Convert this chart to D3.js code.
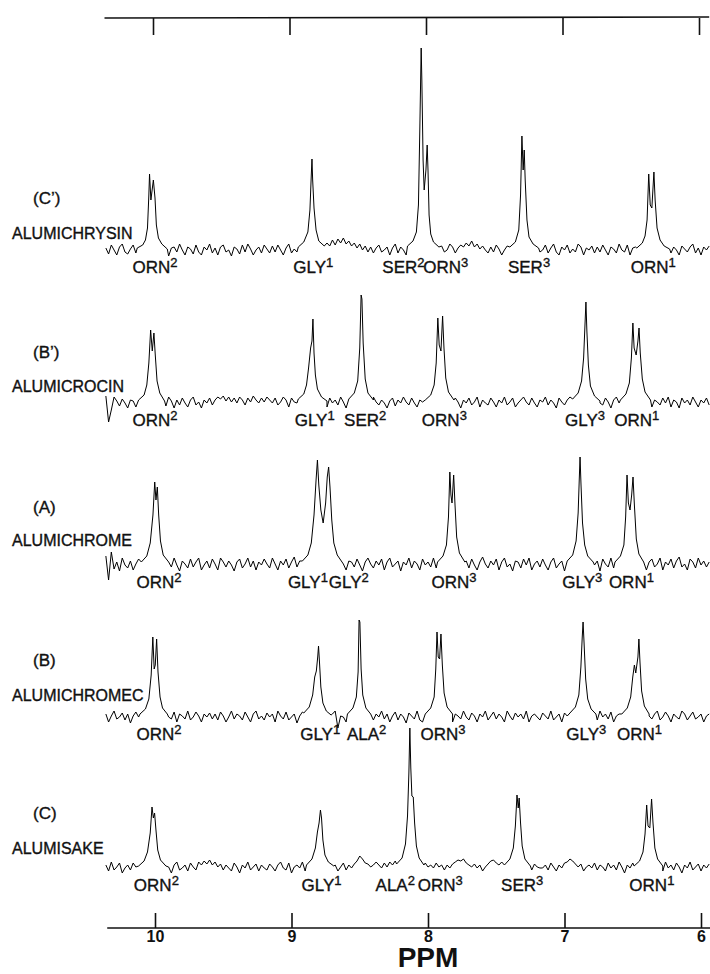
<!DOCTYPE html>
<html>
<head>
<meta charset="utf-8">
<script src="https://cdn.jsdelivr.net/npm/d3@7"></script>
<style>
  body { margin: 0; background: #fff; }
  svg { display: block; font-family: "Liberation Sans", Arial, sans-serif; }
  .trace { fill: none; stroke: #000; stroke-width: 1; stroke-linejoin: round; }
  .axis line, .axis path { stroke: #111; stroke-width: 1.6; }
  .axis text { font-size: 16px; font-weight: bold; fill: #111; font-family: "Liberation Sans", Arial, sans-serif; }
  .lbl { fill: #111; stroke: #111; stroke-width: 0.35; }
</style>
</head>
<body>
<div id="chart"></div>
<script>
// ---- data ----
const ppmTicks = [10, 9, 8, 7, 6];

const sampleNames = ["ALUMICHRYSIN", "ALUMICROCIN", "ALUMICHROME", "ALUMICHROMEC", "ALUMISAKE"];
const sampleTags = ["(C\u2019)", "(B\u2019)", "(A)", "(B)", "(C)"];

// baseline noise, sampled from 10.36 ppm downward every 0.02 ppm
const noiseStart = 10.36;
const noiseStep = 0.02;

const noiseCp = [
  2,-4,5,0,-5,3,6,-2,-4,1,5,-3,0,3,-6,2,4,-2,3,-4,
  0,5,-3,-6,2,3,-2,6,0,-5,3,1,-4,5,-2,-5,3,0,6,-3,
  2,-5,3,5,-2,0,-6,3,1,-4,5,-2,6,1,-5,0,3,-3,5,1,
  -3,4,-2,5,0,-5,2,6,-3,1,-2,5,3,-5,0,3,-4,6,1,4,
  3,7,4,10,5,11,7,12,6,9,4,7,2,6,0,4,-2,3,-3,2,
  5,-2,0,3,-5,2,6,-3,3,0,-5,4,1,-2,6,3,-3,0,5,-2,
  3,-5,2,4,-2,0,6,3,-3,2,5,3,7,4,9,3,6,1,4,0,
  -3,3,-2,5,1,-5,0,4,-3,6,2,-2,5,-5,0,3,1,-4,5,-2,
  0,5,-3,2,6,-2,-5,3,0,5,-3,1,-2,6,3,-5,2,0,4,-3,
  3,-2,5,0,-5,3,1,-3,6,0,-2,5,-5,2,3,-4,0,5,1,-3,
  5,-2,3,-5,0,6,2,-3,3,0,-5,4,1,-2,3,6,-3,2,-5,3,
  0,4];
const noiseBp = [
  7,-19,-7,6,2,-3,4,0,-5,3,2,-4,6,-2,0,5,-5,2,3,-3,
  4,0,-3,6,2,-5,3,-2,5,0,-4,3,6,-2,1,-5,3,0,5,-2,
  3,6,4,7,2,6,1,5,0,6,3,-2,5,1,7,3,0,5,1,6,
  3,0,5,-2,1,6,3,-4,5,1,0,3,-2,5,6,1,-4,3,0,5,
  1,-4,5,0,3,-2,6,1,-5,3,0,5,-2,3,1,-4,5,0,6,1,
  -2,3,0,-5,2,5,-3,3,0,6,1,-2,5,0,-4,3,1,-5,3,0,
  5,-2,1,6,-4,0,3,-2,5,1,-5,3,0,5,-2,1,6,-4,3,0,
  -2,5,1,-4,3,0,6,-2,1,5,-4,0,3,6,1,-2,5,0,-4,3,
  1,6,-2,3,0,-5,5,1,-2,3,6,0,-4,5,1,-2,3,0,5,-4,
  3,0,-2,5,1,-5,3,6,0,-4,1,5,-2,3,0,6,-4,1,5,0,
  -4,3,1,-2,5,0,6,-4,3,1,-5,5,0,3,-2,6,1,-4,3,0,
  5,-2];
const noiseA = [
  9,-15,13,-4,3,-6,7,0,-3,4,-5,1,6,-2,3,-6,4,0,7,-3,
  1,6,-5,3,-2,7,0,-6,4,1,-3,6,-2,3,7,-5,0,4,-3,6,
  1,-5,7,3,-2,4,0,-6,3,6,-3,1,7,-2,4,-5,3,0,6,1,
  -3,7,1,-5,4,0,6,-3,3,8,-2,4,-6,1,6,0,-3,7,3,-2,
  4,-5,3,6,0,-3,7,1,-5,4,3,-2,6,0,-6,3,7,1,-3,4,
  0,6,-5,3,7,-2,1,4,-6,3,0,7,-3,4,1,-5,6,0,3,-2,
  7,-3,4,1,-6,6,0,3,-5,7,1,-2,4,-3,6,0,-5,3,8,1,
  -3,4,0,6,-5,3,7,-2,1,-6,4,3,-3,6,0,7,-5,1,4,-2,
  6,0,-5,3,7,-3,1,4,-6,3,0,6,-2,4,-5,7,1,-3,3,0,
  4,-6,6,1,-2,7,-3,3,0,-5,6,1,4,-3,7,0,-2,4,-5,3,
  6,-2,1,7,-5,3,0,6,-3,4,8,-2,1,-5,6,3,-3,7,0,4,
  -2,3];
const noiseB = [
  3,-5,1,6,-2,0,4,-3,3,-6,1,5,0,-3,6,-2,3,0,-5,4,
  1,-3,6,0,-2,5,-5,3,1,-2,6,-3,0,5,1,-5,3,0,4,-2,
  3,-3,5,1,-5,0,6,-2,3,1,-3,5,0,-5,3,6,-2,1,-3,4,
  0,3,-5,6,1,-2,5,-3,0,3,-6,1,5,0,-3,6,1,-2,3,-5,
  4,0,-2,3,6,-11,1,0,-5,4,1,-2,6,3,-3,0,5,1,-3,3,
  0,6,-2,3,-5,1,5,-3,3,0,-6,4,1,-2,6,-3,-5,3,0,4,
  -2,3,6,-3,1,5,0,-5,3,1,-2,6,0,-3,4,1,-5,3,0,6,
  -3,1,5,-2,3,0,-5,6,1,-3,4,0,3,-2,6,-5,1,3,0,-3,
  4,1,-2,6,-3,0,3,-5,4,1,0,-3,6,1,-2,5,-5,3,0,1,
  -3,6,0,3,-2,5,-5,1,3,0,6,-3,1,4,-2,0,3,-5,4,1,
  -2,3,6,-3,0,5,1,-5,3,0,-2,6,3,-3,1,5,-2,0,3,-5,
  1,3];
const noiseC = [
  3,-3,6,-2,1,5,-5,0,3,-2,5,1,-3,6,0,-5,3,1,-2,4,
  0,-3,5,1,-5,3,6,-2,0,3,-3,5,1,-2,6,3,7,4,8,3,
  6,1,4,-2,3,0,-3,5,1,-5,3,0,6,-2,1,4,-3,3,0,-2,
  4,1,-3,3,6,0,-2,5,-5,1,3,0,6,-3,1,4,0,-3,3,1,
  -2,4,0,6,3,-3,1,5,-2,3,0,4,7,12,9,5,4,1,3,6,
  3,0,5,1,6,3,7,1,4,0,3,6,1,4,0,3,-2,5,1,3,
  0,5,1,3,-2,3,0,4,6,8,7,9,5,3,1,4,0,3,-3,1,
  4,7,8,5,3,6,1,-2,4,0,3,-3,1,5,0,3,-2,4,1,0,
  0,3,-2,5,1,-3,3,0,5,6,9,7,4,1,4,-3,1,3,0,5,
  -2,3,1,-3,5,0,3,-2,6,1,-5,3,0,5,-2,3,1,-3,4,0,
  3,-2,5,1,-3,6,0,3,-2,5,1,-5,3,0,6,-2,1,4,-3,3,
  0,4];

// peak profiles: [ppm, intensity]
const peaksCp = [
  [[10.13,2],[10.09,5],[10.07,10],[10.055,22],[10.045,55],[10.04,76],[10.03,50],[10.012,70],[10.0,52],[9.99,25],[9.975,12],[9.95,6],[9.91,1]],
  [[8.95,3],[8.91,8],[8.88,18],[8.865,40],[8.855,75],[8.85,91],[8.845,70],[8.835,42],[8.82,20],[8.80,9],[8.76,4]],
  [[8.15,4],[8.11,9],[8.085,18],[8.07,45],[8.06,120],[8.05,202],[8.045,170],[8.036,90],[8.028,60],[8.015,80],[8.006,105],[8.0,80],[7.992,35],[7.98,16],[7.96,8],[7.92,3]],
  [[7.40,3],[7.36,8],[7.335,20],[7.322,55],[7.312,114],[7.303,80],[7.295,100],[7.288,70],[7.275,30],[7.26,13],[7.23,6],[7.19,2]],
  [[6.47,2],[6.43,7],[6.41,14],[6.395,30],[6.383,76],[6.372,45],[6.36,42],[6.345,78],[6.336,50],[6.322,22],[6.30,10],[6.27,4],[6.23,1]]
];
const peaksBp = [
  [[10.12,3],[10.08,8],[10.06,18],[10.045,40],[10.032,73],[10.02,52],[10.008,70],[9.998,48],[9.985,22],[9.965,10],[9.93,2]],
  [[8.95,4],[8.91,9],[8.89,18],[8.875,35],[8.86,55],[8.85,62],[8.843,84],[8.835,50],[8.825,28],[8.81,14],[8.78,6],[8.74,2]],
  [[8.58,4],[8.54,10],[8.515,22],[8.5,55],[8.49,108],[8.484,104],[8.475,60],[8.46,24],[8.44,10],[8.40,3]],
  [[8.02,3],[7.98,8],[7.955,18],[7.94,40],[7.928,85],[7.918,58],[7.905,52],[7.893,87],[7.883,55],[7.87,25],[7.85,11],[7.81,3]],
  [[6.94,4],[6.90,10],[6.875,22],[6.86,45],[6.85,78],[6.843,101],[6.836,72],[6.825,38],[6.81,17],[6.78,7],[6.74,2]],
  [[6.59,3],[6.55,9],[6.525,20],[6.51,45],[6.499,80],[6.49,55],[6.475,48],[6.462,62],[6.454,75],[6.445,50],[6.43,24],[6.41,11],[6.37,3]]
];
const peaksA = [
  [[10.10,3],[10.06,9],[10.035,22],[10.015,50],[10.002,83],[9.993,65],[9.983,78],[9.973,50],[9.96,24],[9.94,10],[9.90,3]],
  [[8.92,4],[8.88,10],[8.855,22],[8.835,50],[8.82,85],[8.81,105],[8.80,80],[8.785,55],[8.768,42],[8.75,62],[8.738,88],[8.728,98],[8.718,78],[8.705,45],[8.69,22],[8.665,10],[8.63,3]],
  [[7.93,3],[7.89,9],[7.865,20],[7.85,48],[7.84,93],[7.832,70],[7.824,62],[7.812,90],[7.802,60],[7.79,28],[7.77,12],[7.73,3]],
  [[6.98,4],[6.94,10],[6.915,24],[6.90,52],[6.892,85],[6.886,108],[6.879,80],[6.868,42],[6.852,20],[6.83,9],[6.79,3]],
  [[6.63,3],[6.59,9],[6.565,20],[6.552,48],[6.542,90],[6.532,62],[6.52,55],[6.508,70],[6.498,88],[6.488,60],[6.474,26],[6.455,11],[6.42,3]]
];
const peaksB = [
  [[10.11,3],[10.07,8],[10.045,18],[10.028,42],[10.016,80],[10.006,48],[9.998,52],[9.988,78],[9.978,45],[9.963,20],[9.945,9],[9.91,3]],
  [[8.91,4],[8.87,10],[8.845,22],[8.83,40],[8.818,46],[8.808,60],[8.802,71],[8.795,55],[8.785,30],[8.77,14],[8.745,6],[8.71,2]],
  [[8.59,3],[8.55,9],[8.525,20],[8.512,45],[8.505,97],[8.499,95],[8.49,48],[8.478,22],[8.455,9],[8.42,3]],
  [[8.02,3],[7.98,9],[7.955,20],[7.943,48],[7.934,85],[7.925,60],[7.915,58],[7.905,83],[7.895,52],[7.882,24],[7.86,10],[7.82,3]],
  [[6.96,4],[6.92,10],[6.895,22],[6.88,50],[6.87,80],[6.864,95],[6.857,75],[6.845,38],[6.83,18],[6.805,8],[6.77,3]],
  [[6.58,3],[6.54,9],[6.515,20],[6.5,40],[6.488,52],[6.478,44],[6.462,60],[6.455,78],[6.447,55],[6.435,26],[6.415,11],[6.38,3]]
];
const peaksC = [
  [[10.12,2],[10.08,7],[10.055,16],[10.035,35],[10.022,61],[10.012,50],[10.003,55],[9.993,38],[9.98,18],[9.96,8],[9.92,2]],
  [[8.89,3],[8.85,9],[8.825,20],[8.81,36],[8.798,45],[8.788,58],[8.78,50],[8.77,28],[8.755,13],[8.73,6],[8.69,2]],
  [[8.23,4],[8.19,10],[8.165,24],[8.15,52],[8.14,95],[8.133,140],[8.126,100],[8.118,72],[8.108,71],[8.098,45],[8.085,22],[8.065,10],[8.03,3]],
  [[7.44,3],[7.40,9],[7.375,20],[7.36,42],[7.348,73],[7.339,60],[7.332,70],[7.322,45],[7.31,22],[7.29,9],[7.25,2]],
  [[6.49,2],[6.45,7],[6.425,16],[6.41,34],[6.398,63],[6.388,42],[6.375,40],[6.362,69],[6.352,46],[6.338,20],[6.318,9],[6.28,2]]
];

// peak assignments: [residue, superscript, ppm of label centre]
const labelsCp = [["ORN","2",10.0],["GLY","1",8.84],["SER","2",8.18],["ORN","3",7.87],["SER","3",7.26],["ORN","1",6.35]];
const labelsBp = [["ORN","2",10.0],["GLY","1",8.83],["SER","2",8.46],["ORN","3",7.88],["GLY","3",6.85],["ORN","1",6.47]];
const labelsA  = [["ORN","2",9.97],["GLY","1",8.88],["GLY","2",8.58],["ORN","3",7.81],["GLY","3",6.87],["ORN","1",6.51]];
const labelsB  = [["ORN","2",9.97],["GLY","1",8.79],["ALA","2",8.45],["ORN","3",7.89],["GLY","3",6.84],["ORN","1",6.45]];
const labelsC  = [["ORN","2",9.99],["GLY","1",8.78],["ALA","2",8.24],["ORN","3",7.91],["SER","3",7.31],["ORN","1",6.36]];

const noiseSets = [noiseCp, noiseBp, noiseA, noiseB, noiseC];
const peakSets = [peaksCp, peaksBp, peaksA, peaksB, peaksC];
const labelSets = [labelsCp, labelsBp, labelsA, labelsB, labelsC];

// ---- layout ----
const width = 710, height = 974;
const panelBase = [250, 403, 565, 717, 868];
const tagY = [204, 358, 513, 666, 819];
const nameY = [239, 392, 546, 701, 854];

function buildTrace(noise, peaks) {
  const spans = peaks.map(p => d3.extent(p, d => d[0]));
  const pts = [];
  noise.forEach((v, i) => {
    const ppm = noiseStart - i * noiseStep;
    if (!spans.some(s => ppm >= s[0] && ppm <= s[1])) pts.push([ppm, v]);
  });
  peaks.forEach(p => pts.push(...p));
  return pts.sort((a, b) => d3.descending(a[0], b[0]));
}

const svg = d3.select("#chart").append("svg")
  .attr("width", width).attr("height", height);
svg.append("rect").attr("width", width).attr("height", height).attr("fill", "#fff");

const x = d3.scaleLinear().domain([10, 6]).range([155, 701]);

// top axis (ticks only)
svg.append("line")
  .attr("x1", x(10.37)).attr("x2", x(5.94)).attr("y1", 18).attr("y2", 17)
  .attr("stroke", "#111").attr("stroke-width", 1.6);
svg.append("g").attr("class", "axis")
  .attr("transform", "translate(-2,18)")
  .call(d3.axisBottom(x).tickValues(ppmTicks).tickSize(17).tickFormat(""))
  .call(g => g.select(".domain").remove());

// bottom axis
const axisY = 928;
svg.append("line")
  .attr("x1", x(10.35)).attr("x2", x(5.93)).attr("y1", axisY).attr("y2", axisY)
  .attr("stroke", "#111").attr("stroke-width", 1.6);
svg.append("g").attr("class", "axis")
  .attr("transform", `translate(0,${axisY})`)
  .call(d3.axisBottom(x).tickValues(ppmTicks).tickSize(-15).tickPadding(3).tickFormat(d3.format("d")))
  .call(g => g.select(".domain").remove());

svg.append("text")
  .attr("x", x(8)).attr("y", 967)
  .attr("text-anchor", "middle")
  .attr("font-size", 28).attr("font-weight", "bold").attr("fill", "#111")
  .text("PPM");

// spectra
sampleNames.forEach((name, k) => {
  const base = panelBase[k];
  const y = d3.scaleLinear().domain([0, 100]).range([base, base - 100]);
  const line = d3.line().x(d => x(d[0])).y(d => y(d[1]));
  const g = svg.append("g").attr("class", "panel");

  g.append("path").attr("class", "trace")
    .attr("d", line(buildTrace(noiseSets[k], peakSets[k])));

  g.append("text").attr("class", "lbl").attr("x", 33).attr("y", tagY[k])
    .attr("font-size", 17).text(sampleTags[k]);
  g.append("text").attr("class", "lbl").attr("x", 12).attr("y", nameY[k])
    .attr("font-size", 16).text(name);

  const lab = g.selectAll(".peak-label").data(labelSets[k]).join("text")
    .attr("class", "peak-label lbl")
    .attr("x", d => x(d[2])).attr("y", base + 23)
    .attr("text-anchor", "middle").attr("font-size", 17);
  lab.append("tspan").text(d => d[0]);
  lab.append("tspan").attr("font-size", 13).attr("dy", -6).text(d => d[1]);
});
</script>
</body>
</html>
